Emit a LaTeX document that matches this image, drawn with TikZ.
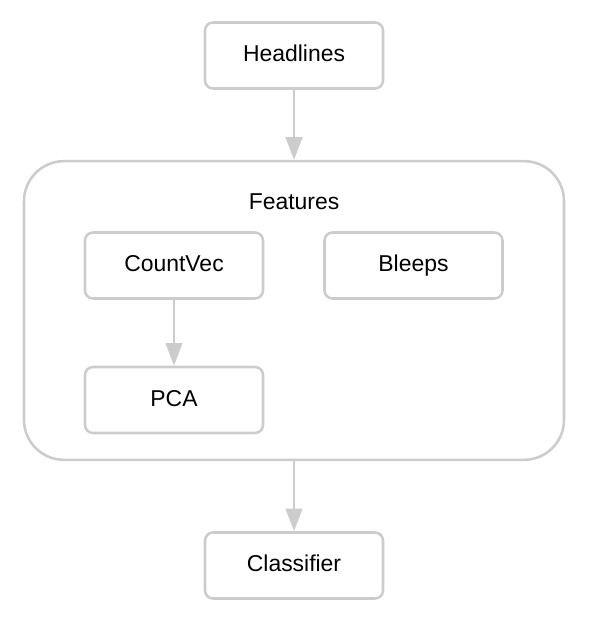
\documentclass[tikz,border=0pt]{standalone}
\usepackage{fontspec}
\setmainfont{Liberation Sans}
\usepackage{tikz}
\usetikzlibrary{arrows.meta}
\definecolor{edgegray}{HTML}{CCCCCC}

\begin{document}
\begin{tikzpicture}[x=0.75pt,y=-0.75pt,
  stage/.style={draw=edgegray, line width=1.9pt, rounded corners=6pt, rectangle,
    minimum width=133.5pt, minimum height=49.5pt, text height=12.5pt, text depth=3.5pt,
    font=\fontsize{17.2}{20}\selectfont},
  group/.style={draw=edgegray, line width=1.9pt, rounded corners=30pt, rectangle,
    minimum width=405pt, minimum height=224pt},
  flow/.style={-{Triangle[width=12.5pt,length=17pt]}, line width=1.6pt, edgegray}]
\useasboundingbox (0,0) rectangle (588,620);
\node[group] (feat) at (294,310.5) {};
\node[font=\fontsize{17.2}{20}\selectfont] (featlbl) at (294,202) {Features};
\node[stage] (head) at (294,55.5) {Headlines};
\node[stage] (cvec) at (174,265.5) {CountVec};
\node[stage] (bleep) at (413.5,265.5) {Bleeps};
\node[stage] (pca) at (174,400) {PCA};
\node[stage] (clf) at (294,565.5) {Classifier};
\draw [flow] (head) -- (feat);
\draw [flow] (cvec) -- (pca);
\draw [flow] (feat) -- (clf);
\end{tikzpicture}
\end{document}
